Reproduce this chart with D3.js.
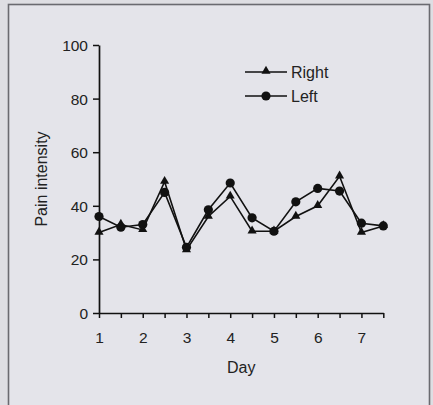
<!DOCTYPE html>
<html>
<head>
<meta charset="utf-8">
<script src="https://cdn.jsdelivr.net/npm/d3@7"></script>
<style>
  body { margin: 0; background: #dedee3; }
  #graph { width: 433px; height: 405px; }
  text { font-family: "Liberation Sans", Arial, sans-serif; fill: #222; }
</style>
</head>
<body>
<div id="graph"></div>
<script>
window.onload = start;

// half-day readings
var days = [1, 1.5, 2, 2.5, 3, 3.5, 4, 4.5, 5, 5.5, 6, 6.5, 7, 7.5];
var rightValues = [30, 33, 31, 49, 23.5, 36, 43.5, 30.5, 30.5, 36, 40, 51, 30, 32.5];
var leftValues = [36, 32, 33, 45, 24.5, 38.5, 48.5, 35.5, 30.5, 41.5, 46.5, 45.5, 33.5, 32.5];
var xTickLabels = [1, 2, 3, 4, 5, 6, 7];
var yTickLabels = [0, 20, 40, 60, 80, 100];
var seriesNames = ["Right", "Left"];

var svg, xScale, yScale;
var width = 433, height = 405;

function start() {
    svg = d3.select("#graph").append("svg")
        .attr("width", width)
        .attr("height", height);

    // panel with border
    svg.append("rect")
        .attr("x", 8.5).attr("y", 4.5)
        .attr("width", 421).attr("height", 420)
        .attr("fill", "#e4e4ea")
        .attr("stroke", "#6a6a70")
        .attr("stroke-width", 1.6);

    xScale = d3.scaleLinear().domain([1, 7.5]).range([99, 383.3]);
    yScale = d3.scaleLinear().domain([0, 100]).range([313, 45]);

    var xAxis = d3.axisBottom(xScale)
        .tickValues(days)
        .tickSize(5)
        .tickSizeOuter(0)
        .tickFormat(function (d) { return xTickLabels.indexOf(d) >= 0 ? d : ""; });
    var yAxis = d3.axisLeft(yScale)
        .tickValues(yTickLabels)
        .tickSize(6)
        .tickSizeOuter(0);

    var xg = svg.append("g")
        .attr("transform", "translate(0," + yScale(0) + ")")
        .call(xAxis);
    var yg = svg.append("g")
        .attr("transform", "translate(" + xScale(1) + ",0)")
        .call(yAxis);

    [xg, yg].forEach(function (g) {
        g.select(".domain").attr("stroke", "#111").attr("stroke-width", 1.7);
        g.selectAll(".tick line").attr("stroke", "#111").attr("stroke-width", 1.5);
        g.selectAll(".tick text")
            .attr("font-size", 15.5)
            .attr("font-family", "Liberation Sans, Arial, sans-serif")
            .attr("fill", "#222");
    });
    xg.selectAll(".tick text").attr("y", 5).attr("dy", "1.62em");
    yg.selectAll(".tick text").attr("x", -11).attr("dy", "0.35em");

    // axis titles
    svg.append("text")
        .attr("x", xScale(4.25))
        .attr("y", 373)
        .attr("text-anchor", "middle")
        .attr("font-size", 16)
        .text("Day");
    svg.append("text")
        .attr("transform", "translate(47," + yScale(50) + ") rotate(-90)")
        .attr("text-anchor", "middle")
        .attr("font-size", 16)
        .text("Pain intensity");

    var line = d3.line()
        .x(function (d) { return xScale(d[0]); })
        .y(function (d) { return yScale(d[1]); });

    var rightData = d3.zip(days, rightValues);
    var leftData = d3.zip(days, leftValues);

    svg.append("path").datum(rightData)
        .attr("d", line).attr("fill", "none")
        .attr("stroke", "#111").attr("stroke-width", 1.6);
    svg.append("path").datum(leftData)
        .attr("d", line).attr("fill", "none")
        .attr("stroke", "#111").attr("stroke-width", 1.6);

    var tri = d3.symbol().type(d3.symbolTriangle).size(36);
    svg.selectAll(".tri").data(rightData).enter()
        .append("path")
        .attr("class", "tri")
        .attr("d", tri)
        .attr("fill", "#111")
        .attr("transform", function (d) { return "translate(" + xScale(d[0]) + "," + (yScale(d[1]) - 0.5) + ")"; });

    svg.selectAll(".dot").data(leftData).enter()
        .append("circle")
        .attr("class", "dot")
        .attr("r", 4.6)
        .attr("fill", "#111")
        .attr("cx", function (d) { return xScale(d[0]); })
        .attr("cy", function (d) { return yScale(d[1]); });

    // legend
    var legend = svg.append("g").attr("transform", "translate(245,72)");
    seriesNames.forEach(function (name, i) {
        var row = legend.append("g").attr("transform", "translate(0," + (i * 24) + ")");
        row.append("line")
            .attr("x1", 0).attr("x2", 42)
            .attr("stroke", "#111").attr("stroke-width", 1.6);
        if (i === 0) {
            row.append("path").attr("d", tri).attr("fill", "#111")
                .attr("transform", "translate(21,-1)");
        } else {
            row.append("circle").attr("r", 4.6).attr("cx", 21).attr("fill", "#111");
        }
        row.append("text")
            .attr("x", 46).attr("dy", "0.36em")
            .attr("font-size", 16)
            .text(name);
    });
}
</script>
</body>
</html>
